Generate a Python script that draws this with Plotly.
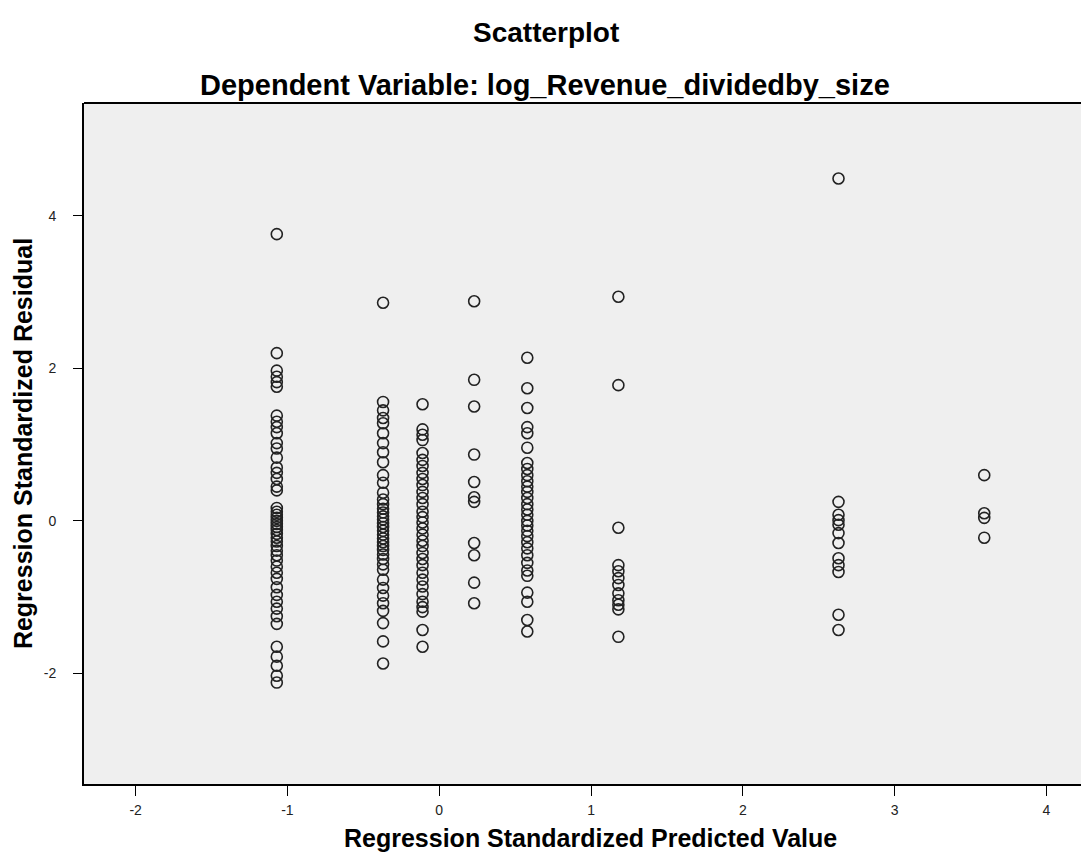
import plotly.graph_objects as go

# Predicted value groups (x) and their standardized residuals (y)
pred_a = -1.07
resid_a = [3.76, 2.20, 1.97, 1.89, 1.82, 1.76, 1.38, 1.30, 1.23, 1.15, 1.02, 0.95, 0.83,
           0.70, 0.63, 0.55, 0.45, 0.40, 0.17, 0.12, 0.08, 0.04, 0.00, -0.04, -0.08, -0.12,
           -0.17, -0.22, -0.27, -0.33, -0.39, -0.45, -0.52, -0.60, -0.68, -0.76, -0.87,
           -0.97, -1.06, -1.15, -1.25, -1.35, -1.65, -1.78, -1.90, -2.03, -2.12]

pred_b = -0.37
resid_b = [2.86, 1.56, 1.45, 1.35, 1.28, 1.15, 1.02, 0.90, 0.77, 0.60, 0.50, 0.37, 0.28,
           0.22, 0.16, 0.11, 0.06, 0.02, -0.03, -0.08, -0.13, -0.18, -0.23, -0.28, -0.33,
           -0.38, -0.44, -0.50, -0.57, -0.64, -0.77, -0.88, -0.98, -1.08, -1.18, -1.34,
           -1.58, -1.87]

pred_c = -0.11
resid_c = [1.53, 1.20, 1.13, 1.06, 0.89, 0.80, 0.72, 0.63, 0.55, 0.47, 0.38, 0.30, 0.22,
           0.12, 0.05, -0.02, -0.10, -0.18, -0.26, -0.33, -0.42, -0.50, -0.58, -0.68,
           -0.77, -0.86, -0.96, -1.06, -1.13, -1.19, -1.43, -1.65]

pred_d = 0.23
resid_d = [2.88, 1.85, 1.50, 0.87, 0.51, 0.31, 0.25, -0.29, -0.45, -0.81, -1.08]

pred_e = 0.58
resid_e = [2.14, 1.74, 1.48, 1.23, 1.15, 0.96, 0.76, 0.68, 0.60, 0.52, 0.45, 0.38, 0.30,
           0.22, 0.15, 0.08, 0.00, -0.06, -0.13, -0.20, -0.28, -0.36, -0.45, -0.55, -0.65,
           -0.72, -0.94, -1.06, -1.30, -1.45]

pred_f = 1.18
resid_f = [2.94, 1.78, -0.09, -0.58, -0.66, -0.75, -0.84, -0.95, -1.04, -1.10, -1.16, -1.52]

pred_g = 2.63
resid_g = [4.49, 0.25, 0.08, 0.01, -0.05, -0.16, -0.29, -0.49, -0.58, -0.67, -1.23, -1.43]

pred_h = 3.59
resid_h = [0.60, 0.10, 0.04, -0.22]

x_ticks = [-2, -1, 0, 1, 2, 3, 4]
x_tick_labels = ["-2", "-1", "0", "1", "2", "3", "4"]
y_ticks = [-2, 0, 2, 4]
y_tick_labels = ["-2", "0", "2", "4"]

groups = [(pred_a, resid_a), (pred_b, resid_b), (pred_c, resid_c), (pred_d, resid_d),
          (pred_e, resid_e), (pred_f, resid_f), (pred_g, resid_g), (pred_h, resid_h)]

xs, ys = [], []
for p, rs in groups:
    xs += [p] * len(rs)
    ys += rs

fig = go.Figure()
fig.add_trace(go.Scatter(
    x=xs, y=ys, mode="markers",
    marker=dict(symbol="circle-open", size=11, color="#222222", line=dict(width=1.6)),
    showlegend=False, hoverinfo="skip",
))

# the page body adds an 8px offset; compensate so the plot lands where the reference has it
W, H = 1081, 850
ML, MR, MT, MB = 76, 0, 95, 74
plot_w = W - ML - MR
plot_h = H - MT - MB

font = "Liberation Sans, Arial, sans-serif"
fig.update_layout(
    width=W, height=H,
    margin=dict(l=ML, r=MR, t=MT, b=MB, autoexpand=False),
    paper_bgcolor="white",
    plot_bgcolor="#efefef",
    font=dict(family=font, color="black"),
    xaxis=dict(range=[-2.34, 4.28], tickvals=x_ticks, ticktext=x_tick_labels,
               ticks="outside", ticklen=10, ticklabelstandoff=2,
               tickcolor="black", showgrid=False, zeroline=False, showline=True,
               linecolor="black", linewidth=2, tickfont=dict(size=14, color="#222")),
    yaxis=dict(range=[-3.45, 5.48], tickvals=y_ticks, ticktext=y_tick_labels,
               ticks="outside", ticklen=9, ticklabelstandoff=14,
               tickcolor="black", showgrid=False, zeroline=False, showline=True,
               linecolor="black", linewidth=2, tickfont=dict(size=14, color="#222"),
               title=dict(text="<b>Regression Standardized Residual</b>",
                          font=dict(size=25), standoff=4)),
)
fig.add_shape(type="line", xref="paper", yref="paper", x0=0, x1=1, y0=1, y1=1,
              line=dict(color="black", width=2))
fig.add_annotation(text="<b>Scatterplot</b>", xref="paper", yref="paper",
                   x=(546 - 8 - ML) / plot_w, y=1 + (MT - (32 - 8)) / plot_h,
                   yanchor="middle", showarrow=False, font=dict(size=28))
fig.add_annotation(text="<b>Dependent Variable: log_Revenue_dividedby_size</b>",
                   xref="paper", yref="paper", yanchor="middle",
                   x=(545 - 8 - ML) / plot_w, y=1 + (MT - (85 - 8)) / plot_h,
                   showarrow=False, font=dict(size=29))
fig.add_annotation(text="<b>Regression Standardized Predicted Value</b>",
                   xref="paper", yref="paper", yanchor="middle",
                   x=(590 - 8 - ML) / plot_w, y=-((838 - 8) - (H - MB)) / plot_h,
                   showarrow=False, font=dict(size=25))

fig.write_html("out.html")
